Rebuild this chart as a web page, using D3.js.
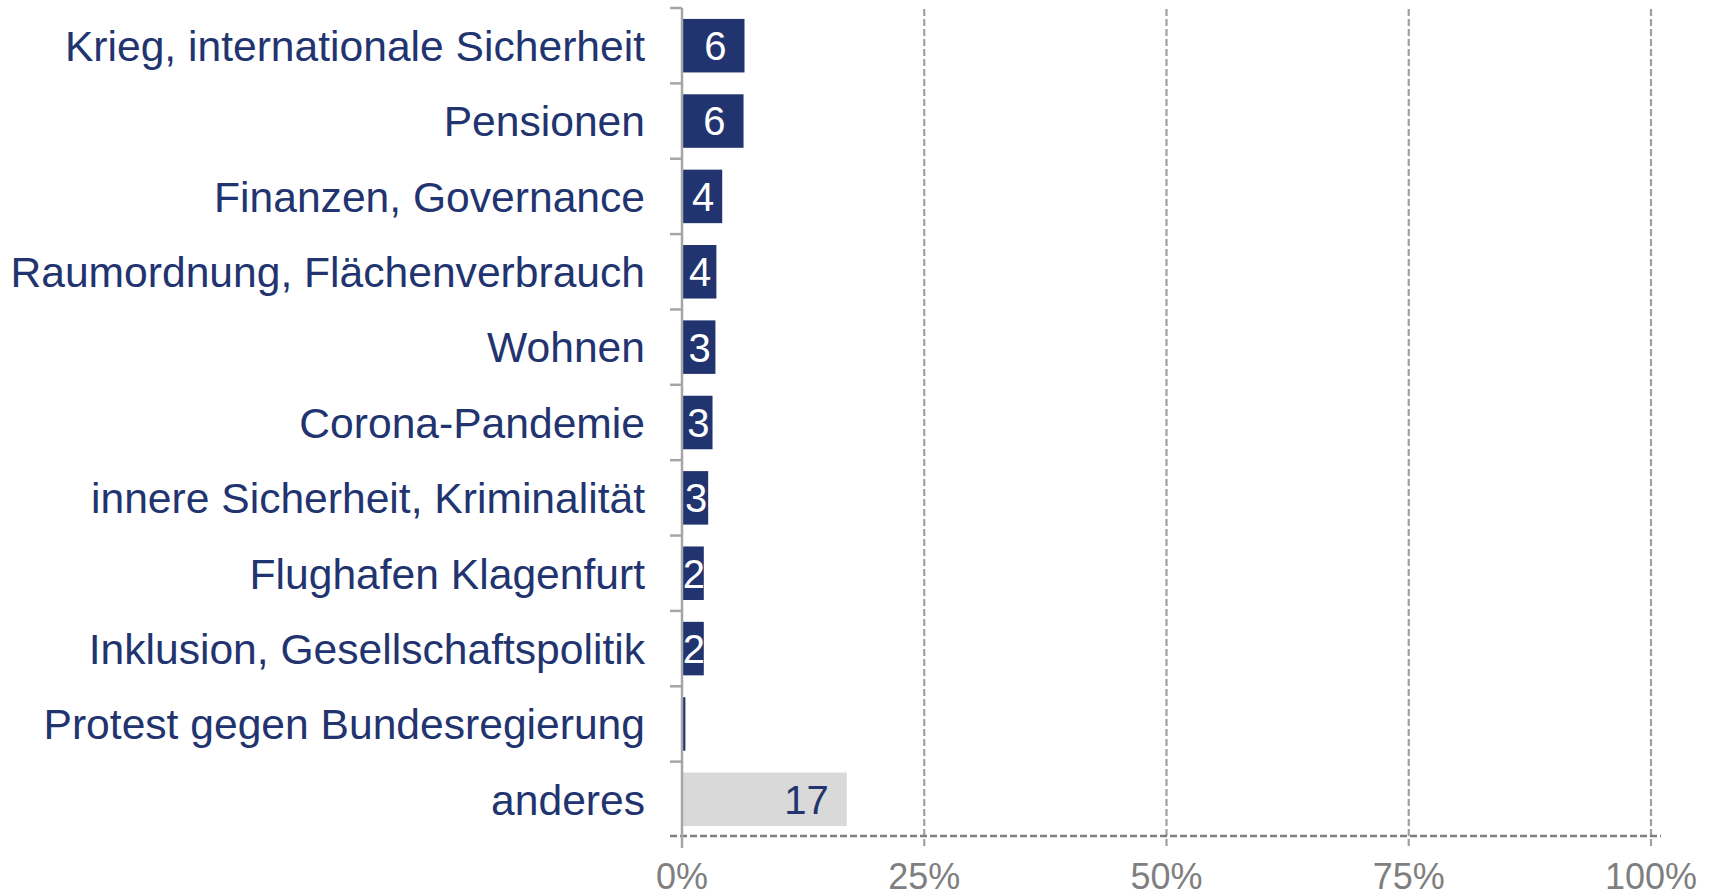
<!DOCTYPE html>
<html>
<head>
<meta charset="utf-8">
<script src="https://cdn.jsdelivr.net/npm/d3@7"></script>
<style>
  body { margin: 0; background: #fff; }
  svg { display: block; font-family: "Liberation Sans", Arial, sans-serif; }
</style>
</head>
<body>
<svg id="chart" width="1717" height="896"></svg>
<script>
const categories = [
    "Krieg, internationale Sicherheit",
    "Pensionen",
    "Finanzen, Governance",
    "Raumordnung, Flächenverbrauch",
    "Wohnen",
    "Corona-Pandemie",
    "innere Sicherheit, Kriminalität",
    "Flughafen Klagenfurt",
    "Inklusion, Gesellschaftspolitik",
    "Protest gegen Bundesregierung",
    "anderes"
];
const values = [6.45, 6.35, 4.15, 3.55, 3.45, 3.15, 2.7, 2.25, 2.25, 0.35, 17.0];
const otherCategory = "anderes";
const xTicks = [0, 25, 50, 75, 100];

const navy = "#22346f";
const grey = "#d9d9d9";

const svg = d3.select("#chart");

const x = d3.scaleLinear().domain([0, 100]).range([682, 1651]);
const y = d3.scaleBand().domain(categories).range([8, 837])
    .paddingInner(0.29).paddingOuter(0.145);
const step = y.step();

// vertical dashed grid lines
svg.append("g")
    .selectAll("line")
    .data(xTicks.filter(t => t > 0))
    .enter().append("line")
    .attr("x1", d => x(d)).attr("x2", d => x(d))
    .attr("y1", 9).attr("y2", 847)
    .attr("stroke", "#a0a0a0")
    .attr("stroke-width", 2.2)
    .attr("stroke-dasharray", "7,3");

// bars
svg.selectAll(".bar")
    .data(categories)
    .enter().append("rect")
    .attr("class", "bar")
    .attr("x", x(0))
    .attr("y", d => y(d))
    .attr("width", (d, i) => x(values[i]) - x(0))
    .attr("height", y.bandwidth())
    .attr("fill", d => d === otherCategory ? grey : navy);

// bottom axis, dashed
svg.append("line")
    .attr("x1", 670).attr("x2", 1661)
    .attr("y1", 836).attr("y2", 836)
    .attr("stroke", "#7f7f7f")
    .attr("stroke-width", 2.5)
    .attr("stroke-dasharray", "7,3");

// left axis with ticks at category boundaries
const yAxis = svg.append("g").attr("stroke", "#a6a6a6").attr("stroke-width", 2.5);
yAxis.append("line")
    .attr("x1", x(0)).attr("x2", x(0))
    .attr("y1", 8).attr("y2", 848);
yAxis.selectAll(".ytick")
    .data(d3.range(categories.length))
    .enter().append("line")
    .attr("class", "ytick")
    .attr("x1", 670).attr("x2", x(0))
    .attr("y1", i => 8 + i * step).attr("y2", i => 8 + i * step);

// category labels
svg.selectAll(".cat")
    .data(categories)
    .enter().append("text")
    .attr("class", "cat")
    .attr("x", 645)
    .attr("y", d => y(d) + y.bandwidth() / 2)
    .attr("dy", "0.36em")
    .attr("text-anchor", "end")
    .attr("fill", navy)
    .style("font-size", "42.6px")
    .text(d => d);

// value labels
const valueFont = 40;
svg.selectAll(".val")
    .data(categories)
    .enter().append("text")
    .attr("class", "val")
    .style("font-size", valueFont + "px")
    .attr("dy", "0.36em")
    .attr("y", d => y(d) + y.bandwidth() / 2)
    .attr("fill", d => d === otherCategory ? navy : "#fff")
    .text((d, i) => Math.round(values[i]) > 0 ? Math.round(values[i]) : "")
    .each(function(d, i) {
        const t = d3.select(this);
        const tw = this.getComputedTextLength();
        const bw = x(values[i]) - x(0);
        if (bw > tw + 36) {
            t.attr("x", x(values[i]) - 18).attr("text-anchor", "end");
        } else {
            t.attr("x", x(0) + bw / 2 + 1).attr("text-anchor", "middle");
        }
    });

// x tick labels
svg.selectAll(".xlab")
    .data(xTicks)
    .enter().append("text")
    .attr("class", "xlab")
    .attr("x", d => x(d))
    .attr("y", 889)
    .attr("text-anchor", "middle")
    .attr("fill", "#7f7f7f")
    .style("font-size", "36px")
    .text(d => d + "%");
</script>
</body>
</html>
